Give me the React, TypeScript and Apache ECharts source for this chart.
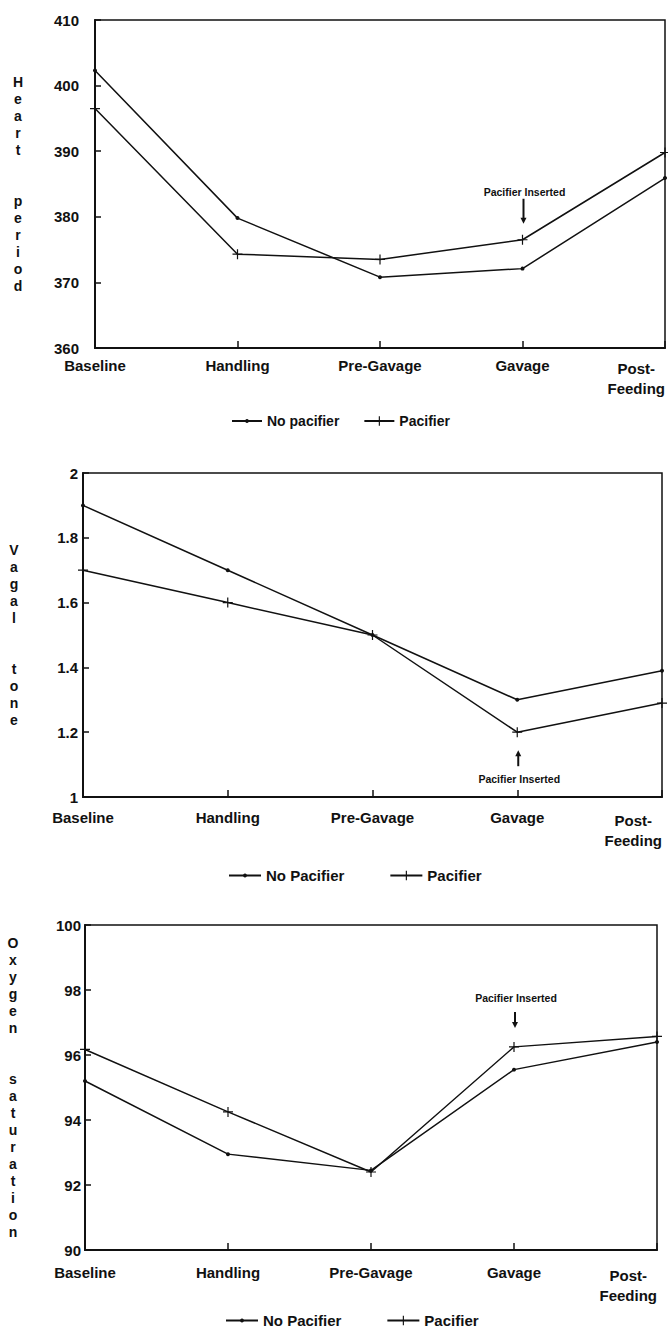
import React, { useEffect, useRef } from 'react';
import * as echarts from 'echarts';

// ---- data ----
const categories = ['Baseline', 'Handling', 'Pre-Gavage', 'Gavage', 'Post-Feeding'];

const heartNoPacifier = [402.3, 379.8, 370.8, 372.1, 385.9];
const heartPacifier = [396.5, 374.3, 373.5, 376.5, 389.8];

const vagalNoPacifier = [1.9, 1.7, 1.5, 1.3, 1.39];
const vagalPacifier = [1.7, 1.6, 1.5, 1.2, 1.29];

const oxygenNoPacifier = [95.2, 92.95, 92.45, 95.55, 96.4];
const oxygenPacifier = [96.17, 94.25, 92.4, 96.25, 96.57];

const heartAxis = [360, 410, 10];
const vagalAxis = [1, 2, 0.2];
const oxygenAxis = [90, 100, 2];

const legendNames = [
  ['No pacifier', 'Pacifier'],
  ['No Pacifier', 'Pacifier'],
  ['No Pacifier', 'Pacifier'],
];
const axisTitles = ['Heart  period', 'Vagal  tone', 'Oxygen  saturation'];
const annotationText = 'Pacifier Inserted';

// ---- styles ----
const FONT = '"Liberation Sans", Arial, Helvetica, sans-serif';
const INK = '#111';
const DOT = 'path://M0,0M10,10M5,3A2,2,0,1,1,4.99,3Z';
const PLUS = 'path://M4.4,0H5.6V4.4H10V5.6H5.6V10H4.4V5.6H0V4.4H4.4Z';

const verticalize = (s: string) =>
  s.split('').map((c) => (c === ' ' ? '' : c)).join('\n');

export default function App() {
  const ref = useRef<HTMLDivElement>(null);

  useEffect(() => {
    if (!ref.current) return;
    const chart = echarts.init(ref.current, undefined, { renderer: 'svg' });

    const grids = [
      { left: 95, right: 2, top: 20, height: 328 },
      { left: 83, right: 6, top: 473, height: 324 },
      { left: 85, right: 11, top: 925, height: 325 },
    ];
    const yRanges = [heartAxis, vagalAxis, oxygenAxis];
    const yLabelMargins = [16, 5, 4];
    const xLabelMargins = [10, 13, 15];
    const nameGaps = [77, 69, 72];
    const legendPos = [
      { left: 231, top: 414, itemGap: 24, fontSize: 14, itemWidth: 30 },
      { left: 228, top: 868, itemGap: 45, fontSize: 15, itemWidth: 32 },
      { left: 225, top: 1313, itemGap: 45, fontSize: 15, itemWidth: 32 },
    ];
    const seriesData = [
      [heartNoPacifier, heartPacifier],
      [vagalNoPacifier, vagalPacifier],
      [oxygenNoPacifier, oxygenPacifier],
    ];

    const labelStyle = { color: INK, fontFamily: FONT, fontWeight: 'bold' as const };

    const option: any = {
      animation: false,
      backgroundColor: '#fff',
      grid: grids.map((g) => ({
        ...g,
        show: true,
        borderColor: INK,
        borderWidth: 1.5,
        backgroundColor: 'transparent',
      })),
      xAxis: grids.map((_, i) => ({
        type: 'category',
        gridIndex: i,
        data: categories,
        boundaryGap: false,
        axisLine: { lineStyle: { color: INK, width: 2 } },
        axisTick: { inside: true, length: 7, lineStyle: { color: INK, width: 1.5 } },
        axisLabel: {
          ...labelStyle,
          fontSize: 15,
          margin: xLabelMargins[i],
          interval: 0,
          alignMaxLabel: 'right',
          formatter: (v: string) =>
            v === 'Post-Feeding' ? '{c|Post-}\n{c|Feeding}' : v,
          rich: {
            c: { ...labelStyle, fontSize: 15, lineHeight: 20, align: 'center' },
          },
        },
      })),
      yAxis: grids.map((_, i) => ({
        type: 'value',
        gridIndex: i,
        min: yRanges[i][0],
        max: yRanges[i][1],
        interval: yRanges[i][2],
        splitLine: { show: false },
        axisLine: { show: true, lineStyle: { color: INK, width: 2 } },
        axisTick: { show: true, inside: true, length: 6, lineStyle: { color: INK, width: 1.5 } },
        axisLabel: { ...labelStyle, fontSize: 15, margin: yLabelMargins[i] },
        name: verticalize(axisTitles[i]),
        nameLocation: 'middle',
        nameRotate: 0,
        nameGap: nameGaps[i],
        nameTextStyle: {
          ...labelStyle,
          fontSize: 14,
          lineHeight: 17,
          align: 'center',
          verticalAlign: 'middle',
        },
      })),
      legend: legendPos.map((p, i) => ({
        data: legendNames[i],
        left: p.left,
        top: p.top,
        padding: 0,
        itemGap: p.itemGap,
        itemWidth: p.itemWidth,
        itemHeight: 12,
        selectedMode: false,
        textStyle: { ...labelStyle, fontSize: p.fontSize },
      })),
      series: seriesData.flatMap((pair, i) =>
        pair.map((d, k) => ({
          type: 'line',
          name: legendNames[i][k],
          xAxisIndex: i,
          yAxisIndex: i,
          data: d,
          symbol: k === 0 ? DOT : PLUS,
          symbolSize: 10,
          showAllSymbol: true,
          color: INK,
          lineStyle: { color: INK, width: 1.5 },
          itemStyle: { color: INK },
          z: 3,
        }))
      ),
    };

    chart.setOption(option);

    // annotation "Pacifier Inserted" with arrow, placed relative to the Gavage point
    const pacSeries = [heartPacifier, vagalPacifier, oxygenPacifier];
    const gavageIdx = categories.indexOf('Gavage');
    // [textOffset, arrowTailOffset, arrowTipOffset] relative to the data point (px)
    const offsets = [
      [-48, -41, -16],
      [47, 34, 18],
      [-49, -35, -19],
    ];
    const graphics: any[] = [];
    pacSeries.forEach((s, i) => {
      const pt = chart.convertToPixel({ xAxisIndex: i, yAxisIndex: i }, [gavageIdx, s[gavageIdx]]) as number[];
      if (!pt) return;
      const [x, y] = pt;
      const [to, tail, tip] = offsets[i].map((o) => y + o);
      const dir = tip > tail ? 1 : -1;
      graphics.push({
        type: 'text',
        x: x + 2,
        y: to,
        style: {
          text: annotationText,
          fill: INK,
          font: `bold 10.5px ${FONT}`,
          textAlign: 'center',
          textVerticalAlign: 'middle',
        },
      });
      graphics.push({
        type: 'line',
        shape: { x1: x + 1, y1: tail, x2: x + 1, y2: tip - dir * 5 },
        style: { stroke: INK, lineWidth: 2 },
      });
      graphics.push({
        type: 'polygon',
        shape: { points: [[x + 1 - 3, tip - dir * 6], [x + 1 + 3, tip - dir * 6], [x + 1, tip]] },
        style: { fill: INK },
      });
    });
    chart.setOption({ graphic: graphics });

    return () => chart.dispose();
  }, []);

  return (
    <div
      ref={ref}
      style={{ position: 'absolute', left: 0, top: 0, width: 668, height: 1335, background: '#fff' }}
    />
  );
}
